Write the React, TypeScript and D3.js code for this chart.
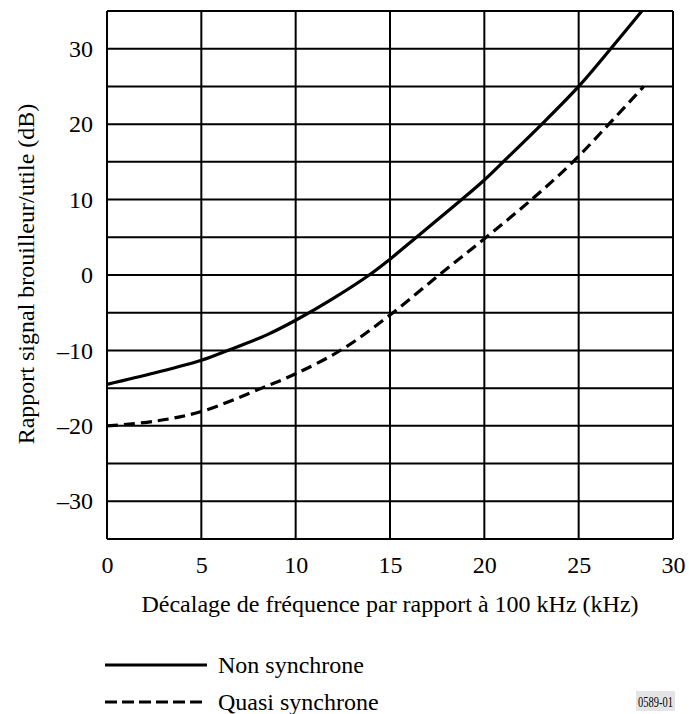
import React, { useEffect, useRef } from 'react';
import * as d3 from 'd3';

// offsets (kHz) and ratios (dB)
const nonSyncX = [0, 2.5, 5, 6.4, 8.5, 10, 11.8, 13.9, 15, 16.4, 18.8, 20, 21, 23.05, 25, 26.7, 28.35];
const nonSyncY = [-14.5, -13.0, -11.3, -10, -7.9, -6.0, -3.4, 0, 2.1, 5, 10, 12.6, 15, 20, 25, 30, 35];
const quasiX = [0, 2.5, 5, 8.2, 10, 12.5, 15, 17.6, 20, 22.5, 24.7, 26.6, 28.45];
const quasiY = [-20, -19.4, -18.1, -15, -13.1, -9.8, -5.3, 0, 4.8, 10, 15, 20, 25];

const xTicks = [0, 5, 10, 15, 20, 25, 30];
const yTicks = [30, 20, 10, 0, -10, -20, -30];
const yGrid = [35, 30, 25, 20, 15, 10, 5, 0, -5, -10, -15, -20, -25, -30, -35];

const seriesNames = ['Non synchrone', 'Quasi synchrone'];

const W = 689, H = 714;
const FONT = 'Liberation Serif, DejaVu Serif, serif';

export default function App() {
    const ref = useRef<SVGSVGElement>(null);

    useEffect(() => {
        const svg = d3.select(ref.current);
        svg.selectAll('*').remove();

        const left = 107, right = 673, top = 11, bottom = 539;
        const x = d3.scaleLinear().domain([0, 30]).range([left, right]);
        const y = d3.scaleLinear().domain([-35, 35]).range([bottom, top]);

        const fmt = (d: number) => (d < 0 ? '\u2013' + Math.abs(d) : String(d));

        // grid
        const grid = svg.append('g').attr('stroke', '#000').attr('stroke-width', 2);
        grid.selectAll('line.v')
            .data(xTicks)
            .enter()
            .append('line')
            .attr('x1', d => x(d)).attr('x2', d => x(d))
            .attr('y1', top).attr('y2', bottom);
        grid.selectAll('line.h')
            .data(yGrid)
            .enter()
            .append('line')
            .attr('x1', left).attr('x2', right)
            .attr('y1', d => y(d)).attr('y2', d => y(d));

        // tick labels
        const yAxis = svg.append('g')
            .attr('transform', `translate(${left},0)`)
            .call(d3.axisLeft(y).tickValues(yTicks).tickSize(0).tickPadding(14).tickFormat(d => fmt(+d)));
        yAxis.select('.domain').remove();

        const xAxis = svg.append('g')
            .attr('transform', `translate(0,${bottom})`)
            .call(d3.axisBottom(x).tickValues(xTicks).tickSize(0).tickPadding(17).tickFormat(d => fmt(+d)));
        xAxis.select('.domain').remove();

        yAxis.attr('font-family', FONT).attr('font-size', 24);
        xAxis.attr('font-family', FONT).attr('font-size', 24);

        // curves
        const line = d3.line<[number, number]>()
            .x(d => x(d[0]))
            .y(d => y(d[1]))
            .curve(d3.curveCatmullRom.alpha(0.5));

        const nonSync: [number, number][] = nonSyncX.map((v, i) => [v, nonSyncY[i]]);
        const quasi: [number, number][] = quasiX.map((v, i) => [v, quasiY[i]]);

        svg.append('path')
            .datum(nonSync)
            .attr('d', line)
            .attr('fill', 'none')
            .attr('stroke', '#000')
            .attr('stroke-width', 3.2);

        svg.append('path')
            .datum(quasi)
            .attr('d', line)
            .attr('fill', 'none')
            .attr('stroke', '#000')
            .attr('stroke-width', 3.2)
            .attr('stroke-dasharray', '11,6');

        // legend lines
        const dashes = ['', '12,5'];
        seriesNames.forEach((name, i) => {
            const ly = 665 + i * 37;
            svg.append('line')
                .attr('x1', 105).attr('x2', 207)
                .attr('y1', ly).attr('y2', ly)
                .attr('stroke', '#000')
                .attr('stroke-width', 3.2)
                .attr('stroke-dasharray', dashes[i]);
        });

        // figure id box
        svg.append('rect')
            .attr('x', 636).attr('y', 691)
            .attr('width', 39).attr('height', 20)
            .attr('fill', '#e4e4e4');

        const txt = svg.append('g').attr('font-family', FONT).attr('font-size', 24).attr('fill', '#000');

        // axis titles
        txt.append('text')
            .attr('x', (143 + 637) / 2)
            .attr('y', 612)
            .attr('text-anchor', 'middle')
            .text('Décalage de fréquence par rapport à 100 kHz (kHz)');

        txt.append('text')
            .attr('transform', 'translate(34,274) rotate(-90)')
            .attr('text-anchor', 'middle')
            .text('Rapport signal brouilleur/utile (dB)');

        seriesNames.forEach((name, i) => {
            txt.append('text')
                .attr('x', 218)
                .attr('y', 673 + i * 37)
                .text(name);
        });

        txt.append('text')
            .attr('x', 655.5)
            .attr('y', 707)
            .attr('text-anchor', 'middle')
            .attr('font-size', 15)
            .attr('textLength', 35)
            .attr('lengthAdjust', 'spacingAndGlyphs')
            .text('0589-01');
    }, []);

    return (
        <svg
            ref={ref}
            width={W}
            height={H}
            style={{ position: 'absolute', left: 0, top: 0, background: '#fff' }}
        />
    );
}
